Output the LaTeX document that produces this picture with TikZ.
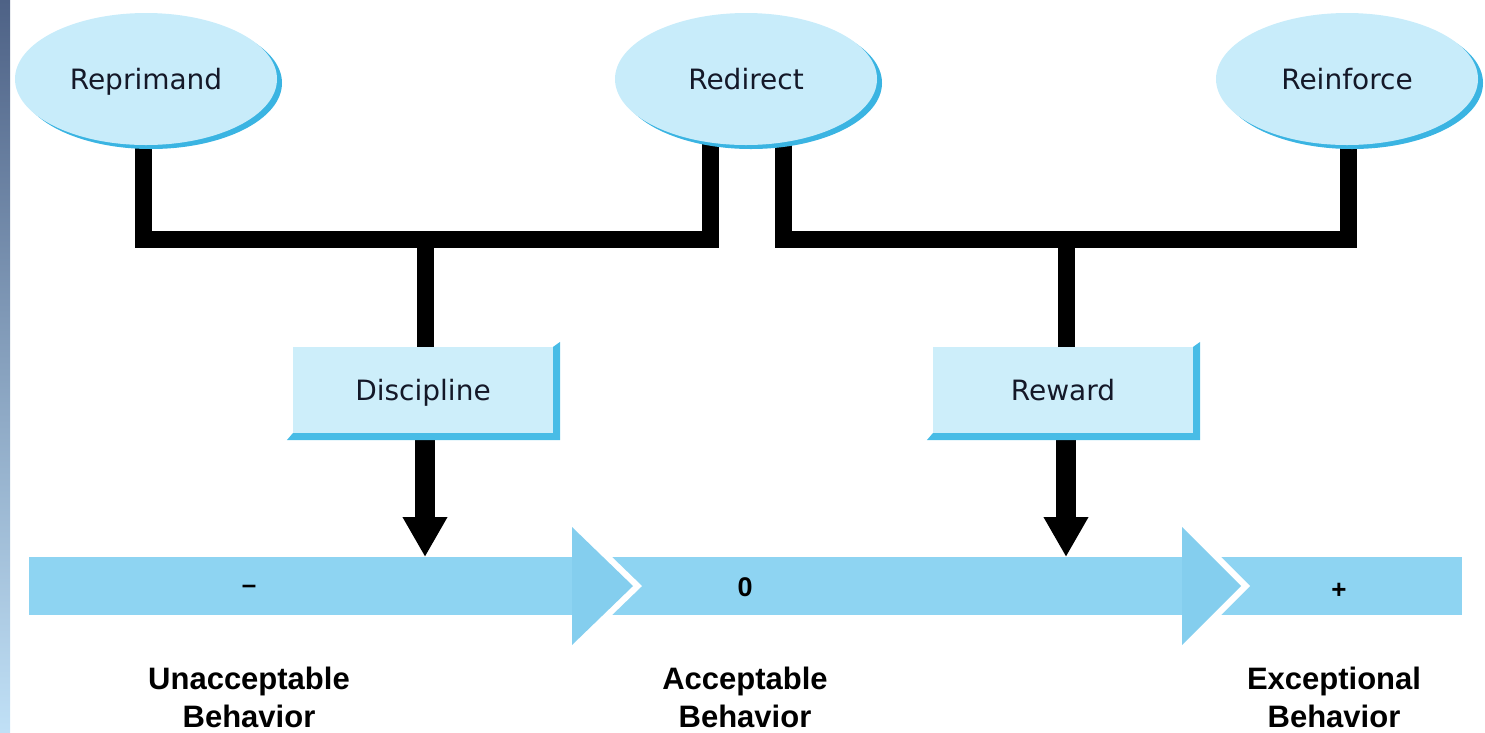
\documentclass[tikz,border=0pt]{standalone}
\usepackage{fontspec}
\setmainfont{DejaVu Sans}
\newfontfamily\lbs{Liberation Sans}
\usetikzlibrary{shapes.geometric,arrows.meta,backgrounds,shadows}
\definecolor{ellfill}{RGB}{200,236,250}
\definecolor{ellshadow}{RGB}{58,180,226}
\definecolor{boxfill}{RGB}{205,238,250}
\definecolor{boxshadow}{RGB}{72,188,230}
\definecolor{bandblue}{RGB}{142,212,242}
\definecolor{headblue}{RGB}{132,206,238}
\definecolor{striptop}{RGB}{78,98,134}
\definecolor{stripbot}{RGB}{192,224,246}
\definecolor{txt}{RGB}{20,24,40}
\begin{document}
\begin{tikzpicture}[x=1pt,y=-1pt,
  ell/.style={ellipse, fill=ellfill, inner sep=0pt, minimum width=262pt, minimum height=132pt,
    font=\fontsize{28}{32}\selectfont, text=txt, text height=20pt, text depth=0pt,
    drop shadow={shadow xshift=5pt, shadow yshift=-4pt, fill=ellshadow, opacity=1}},
  boxn/.style={rectangle, fill=boxfill, inner sep=0pt, minimum width=260pt, minimum height=86pt,
    font=\fontsize{28}{32}\selectfont, text=txt, text height=20pt, text depth=0pt},
  conn/.style={line width=17pt, black, line join=miter},
  arr/.style={line width=20pt, black, -{Triangle[length=40pt 0 0, width=42pt 0 0]}},
  lab/.style={font=\lbs\bfseries\fontsize{31}{38}\selectfont, align=center, text=black},
  sgn/.style={font=\lbs\bfseries\fontsize{26}{28}\selectfont, text=black}]
\useasboundingbox (0,0) rectangle (1485,732);
\shade[top color=striptop, bottom color=stripbot] (0,0) rectangle (10,732);

% band
\fill[bandblue] (29,557) rectangle (1462,615);
\fill[white] (581,527) -- (642,586) -- (581,645) -- cycle;
\fill[headblue] (572,527) -- (633,586) -- (572,645) -- cycle;
\fill[white] (1191,527) -- (1250,586) -- (1191,645) -- cycle;
\fill[headblue] (1182,527) -- (1241,586) -- (1182,645) -- cycle;

% ellipses
\node[ell] (rep) at (146,79) {Reprimand};
\node[ell] (red) at (746,79) {Redirect};
\node[ell] (rein) at (1347,79) {Reinforce};

% boxes
\node[boxn] (disc) at (423,390) {Discipline};
\node[boxn] (rew) at (1063,390) {Reward};
\fill[boxshadow] (disc.north east) -- ([shift={(7,-5)}]disc.north east) -- ([shift={(7,7)}]disc.south east)
  -- ([shift={(-6,7)}]disc.south west) -- (disc.south west) -- (disc.south east) -- cycle;
\fill[boxshadow] (rew.north east) -- ([shift={(7,-5)}]rew.north east) -- ([shift={(7,7)}]rew.south east)
  -- ([shift={(-6,7)}]rew.south west) -- (rew.south west) -- (rew.south east) -- cycle;

\coordinate (jl) at (425,239);
\coordinate (jr) at (1066,239);
\coordinate (bandtop) at (0,557);

\begin{pgfonlayer}{background}
\draw[conn] ([xshift=-3pt]rep.center) |- (jl) -| ([xshift=-36pt]red.center);
\draw[conn] (jl) -- (jl |- disc.north);
\draw[conn] ([xshift=37pt]red.center) |- (jr) -| ([xshift=1pt]rein.center);
\draw[conn] (jr) -- (jr |- rew.north);
\draw[arr] (jl |- disc.south) -- (jl |- bandtop);
\draw[arr] (jr |- rew.south) -- (jr |- bandtop);
\end{pgfonlayer}

% band labels
\node[sgn] (minus) at (249,589) {–};
\node[sgn, font=\lbs\bfseries\fontsize{27}{30}\selectfont] (zero) at (745,587) {0};
\node[sgn] (plus) at (1339,591) {+};

\node[lab] (unacc) at (249,697) {Unacceptable\\Behavior};
\node[lab] (acc) at (745,697) {Acceptable\\Behavior};
\node[lab] (exc) at (1334,697) {Exceptional\\Behavior};
\end{tikzpicture}
\end{document}
